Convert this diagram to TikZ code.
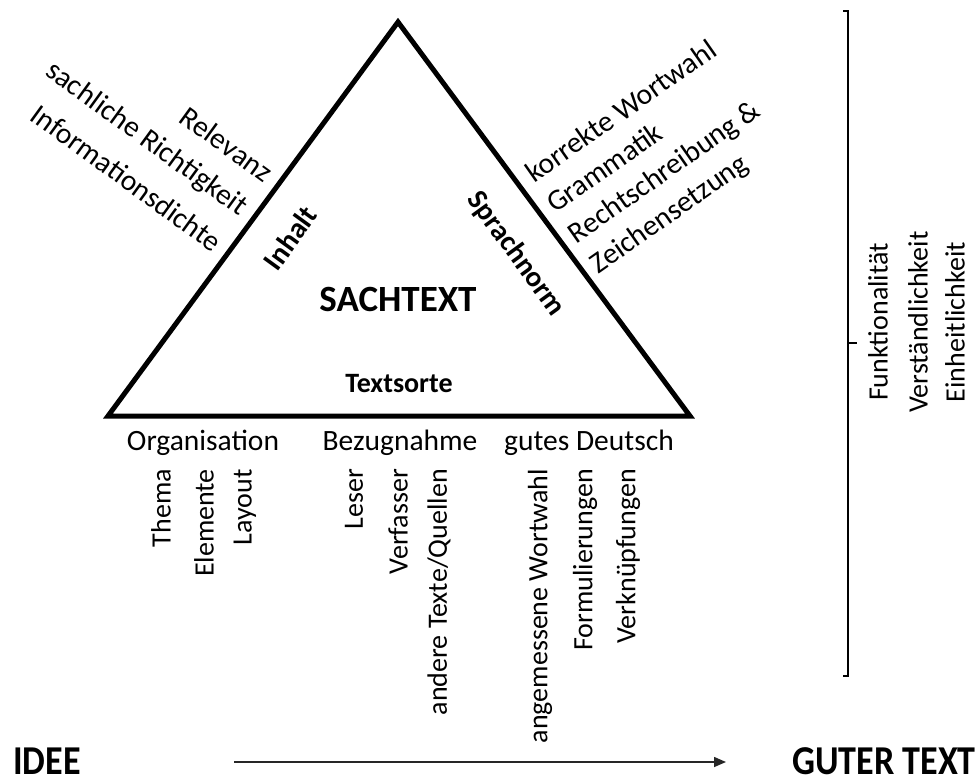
\documentclass[tikz,border=0pt]{standalone}
\usepackage{fontspec}
\usepackage{graphicx}
\setmainfont{Carlito}
\usetikzlibrary{arrows.meta}
\begin{document}
\begin{tikzpicture}[x=1pt,y=1pt,
  lbl/.style={inner sep=0pt, font=\fontsize{29.5}{35}\selectfont},
  blbl/.style={inner sep=0pt, font=\fontsize{29}{35}\selectfont\bfseries},
  vlbl/.style={inner sep=0pt, font=\fontsize{28}{34}\selectfont, rotate=90, anchor=east},
  leftlbl/.style={lbl, rotate=-36, anchor=base east},
  rightlbl/.style={lbl, rotate=35, anchor=base west},
  sidelbl/.style={inner sep=0pt, font=\fontsize{28}{34}\selectfont, rotate=90},
  bigbold/.style={inner sep=0pt, font=\fontsize{41}{48}\selectfont\bfseries},
  tri/.style={line width=5pt, line join=miter},
  brack/.style={line width=1.5pt},
  flow/.style={line width=1.5pt, draw=black!85, -{Triangle[length=12pt,width=10pt]}}]
\useasboundingbox (0,0) rectangle (979,-783);

% triangle
\coordinate (apex) at (398,-22);
\coordinate (bl) at (108,-416);
\coordinate (br) at (690,-416);
\draw[tri] (apex) -- (bl) -- (br) -- cycle;

\node[blbl, font=\fontsize{37}{44}\selectfont\bfseries] (sach) at (398,-299) {SACHTEXT};
\node[blbl, font=\fontsize{28}{34}\selectfont\bfseries] (sorte) at (399,-384) {Textsorte};
\node[blbl, rotate=54] (inhalt) at (290,-238) {Inhalt};
\node[blbl, rotate=-54] (norm) at (516,-254) {Sprachnorm};

% left labels
\node[leftlbl] (rel) at (263.6,-183.4) {Relevanz};
\node[leftlbl] (richt) at (239.4,-216.7) {sachliche Richtigkeit};
\node[leftlbl] (info) at (213,-253) {Informationsdichte};

% right labels
\node[rightlbl] (wort) at (534.2,-183.7) {korrekte Wortwahl};
\node[rightlbl] (gram) at (555.5,-214.0) {Grammatik};
\node[rightlbl] (recht) at (576.7,-244.3) {Rechtschreibung \&};
\node[rightlbl] (zeich) at (597.9,-274.6) {Zeichensetzung};

% bottom headers
\node[lbl] (org) at (203,-443) {Organisation};
\node[lbl] (bez) at (400,-443) {Bezugnahme};
\node[lbl] (gut) at (589,-443) {gutes Deutsch};

% vertical labels
\node[vlbl] (thema) at (161,-469) {Thema};
\node[vlbl] (elem) at (204,-469) {Elemente};
\node[vlbl] (lay) at (245,-469) {Layout};
\node[vlbl] (les) at (354,-469) {Leser};
\node[vlbl] (verf) at (398,-469) {Verfasser};
\node[vlbl] (andere) at (439,-469) {andere Texte/Quellen};
\node[vlbl] (angem) at (540,-469) {angemessene Wortwahl};
\node[vlbl] (form) at (585,-469) {Formulierungen};
\node[vlbl] (verk) at (628,-469) {Verknüpfungen};

% right bracket
\coordinate (bt0) at (843,-11);
\coordinate (bt1) at (848,-11);
\coordinate (bm) at (848,-343);
\coordinate (bm2) at (857,-343);
\coordinate (bb1) at (848,-676);
\coordinate (bb0) at (843,-676);
\draw[brack] (bt0) -- (bt1) -- (bb1) -- (bb0);
\draw[brack] (bm) -- (bm2);

\node[sidelbl] (funk) at (878,-322) {Funktionalität};
\node[sidelbl] (verst) at (918,-322) {Verständlichkeit};
\node[sidelbl] (einh) at (955,-322) {Einheitlichkeit};

% bottom flow
\node[bigbold] (idee) at (47,-761) {\scalebox{0.88}[1]{IDEE}};
\node[bigbold] (guter) at (884,-761) {\scalebox{0.88}[1]{GUTER TEXT}};
\coordinate (fs) at (234,-762);
\coordinate (fe) at (726,-762);
\draw[flow] (fs) -- (fe);
\end{tikzpicture}
\end{document}
